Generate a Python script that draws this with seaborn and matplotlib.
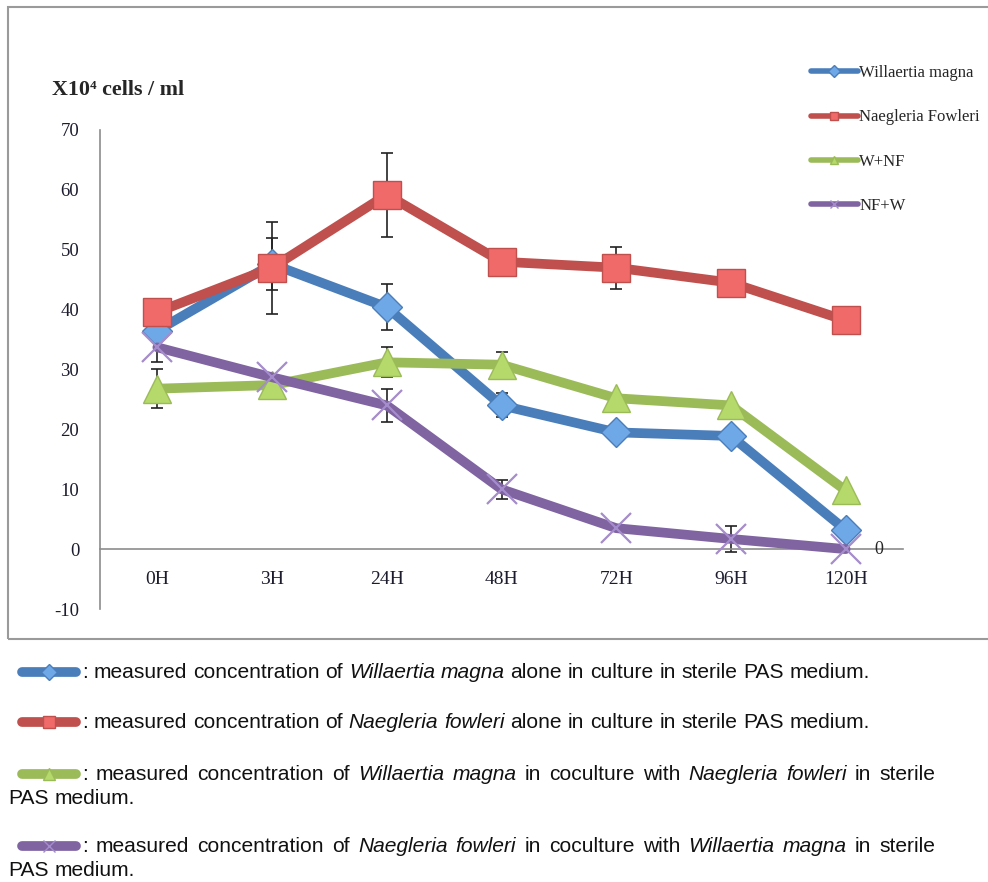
import numpy as np
import pandas as pd
import matplotlib
matplotlib.use('Agg')
import matplotlib.pyplot as plt
import seaborn as sns
from matplotlib.lines import Line2D
from matplotlib.patches import Rectangle

# data (x10^4 cells / ml)
times = ['0H', '3H', '24H', '48H', '72H', '96H', '120H']
willaertia = [36.5, 47.6, 40.4, 24.0, 19.5, 18.9, 3.2]
naegleria = [39.6, 47.0, 59.2, 48.0, 47.0, 44.5, 38.2]
w_nf = [26.8, 27.4, 31.2, 30.8, 25.2, 24.0, 9.8]
nf_w = [33.7, 28.7, 24.0, 10.0, 3.5, 1.7, 0.0]

willaertia_err = [np.nan, 4.3, 3.8, 2.0, np.nan, np.nan, np.nan]
naegleria_err = [np.nan, 7.7, 7.0, np.nan, 3.5, np.nan, np.nan]
w_nf_err = [3.3, np.nan, 2.5, 2.1, np.nan, np.nan, np.nan]
nf_w_err = [2.5, np.nan, 2.7, 1.6, np.nan, 2.2, np.nan]

series_names = ['Willaertia magna', 'Naegleria Fowleri', 'W+NF', 'NF+W']
line_colors = ['#4a7ebb', '#c0504d', '#9bbb59', '#8064a2']
face_colors = ['#6fa8e6', '#f06a6a', '#b5d96a', '#a58ccc']
markers = ['D', 's', '^', 'x']
marker_sizes = [15, 20, 20, 22]

sns.set_style('white')
plt.rcParams['axes.unicode_minus'] = False
serif = ['Liberation Serif', 'DejaVu Serif']
sans = ['Liberation Sans', 'DejaVu Sans']

fig = plt.figure(figsize=(9.88, 8.82), dpi=100)
ax = fig.add_axes([100 / 988, 1 - 609 / 882, 803 / 988, 479 / 882])

all_vals = [willaertia, naegleria, w_nf, nf_w]
all_errs = [willaertia_err, naegleria_err, w_nf_err, nf_w_err]

for name, vals, errs, lc, fc, mk, ms in zip(series_names, all_vals, all_errs,
                                           line_colors, face_colors, markers, marker_sizes):
    df = pd.DataFrame({'time': times, 'value': vals, 'err': errs})
    sns.lineplot(data=df, x='time', y='value', ax=ax, sort=False, color=lc, lw=7,
                 marker=mk, markersize=ms, markerfacecolor=fc,
                 markeredgecolor=(lc if mk != 'x' else fc),
                 markeredgewidth=(1 if mk != 'x' else 1.6), zorder=3,
                 solid_capstyle='round', label=name)
    ok = df['err'].notna()
    ax.errorbar(df['time'][ok], df['value'][ok], yerr=df['err'][ok], fmt='none',
                ecolor='#222222', elinewidth=1.2, capsize=4, capthick=1.2, zorder=2)

ax.annotate('0', xy=(times[-1], nf_w[-1]), xytext=(24, 0), textcoords='offset points',
            ha='center', va='center', fontsize=13, family=serif)

ax.set_xlim(-0.5, len(times) - 0.5)
ax.set_ylim(-10, 70)
ax.set_yticks(range(-10, 71, 10))
ax.set_xlabel('')
ax.set_ylabel('')
if ax.legend_:
    ax.legend_.remove()

for s in ['top', 'right']:
    ax.spines[s].set_visible(False)
ax.spines['bottom'].set_position(('data', 0))
for s in ['left', 'bottom']:
    ax.spines[s].set_color('#8c8c8c')
    ax.spines[s].set_linewidth(1.2)

ax.set_xticks(np.arange(-0.5, len(times)), minor=True)
ax.tick_params(axis='x', which='major', length=0, pad=16)
ax.tick_params(axis='x', which='minor', length=7, direction='out', color='#8c8c8c', width=1.2)
ax.tick_params(axis='y', length=7, direction='out', color='#8c8c8c', width=1.2, pad=8)
for lab in ax.get_yticklabels():
    lab.set_family(serif)
    lab.set_fontsize(13.5)
    lab.set_color('#1c1c2e')
for lab in ax.get_xticklabels():
    lab.set_family(serif)
    lab.set_fontsize(14)
    lab.set_color('#1c1c2e')

fig.text(52 / 988, 1 - 90 / 882, 'X10\u2074 cells / ml', family=serif, fontsize=15.8,
         fontweight='bold', va='center', ha='left')

# legend at top right
handles = [Line2D([0], [0], color=lc, lw=4, marker=mk, markersize=6,
                  markerfacecolor=fc, markeredgecolor=lc if mk != 'x' else fc,
                  solid_capstyle='round')
           for lc, fc, mk in zip(line_colors, face_colors, markers)]
fig.legend(handles, series_names, loc='upper left',
           bbox_to_anchor=(796 / 988, 1 - 50 / 882), frameon=False,
           prop={'family': serif, 'size': 12}, handlelength=2.8, handletextpad=0.1,
           labelspacing=1.7)

# chart frame
fig.add_artist(Rectangle((8 / 988, 1 - 639 / 882), 1.0, 632 / 882,
                         transform=fig.transFigure, fill=False, ec='#9a9a9a', lw=1.5))

# caption below the chart
fig.canvas.draw()
renderer = fig.canvas.get_renderer()
fs = 15.1


def word_width(word, italic):
    t = fig.text(0, 0, word, family=sans, fontsize=fs, style='italic' if italic else 'normal')
    w = t.get_window_extent(renderer).width
    t.remove()
    return w


def rich_line(x0, y, pieces, x1=None):
    words = []
    for txt, it in pieces:
        for w in txt.split():
            words.append((w, it))
    widths = [word_width(w, it) for w, it in words]
    if x1 is None:
        gap = word_width('a a', False) - 2 * word_width('a', False)
    else:
        gap = (x1 - x0 - sum(widths)) / (len(words) - 1)
    x = x0
    for (w, it), wd in zip(words, widths):
        fig.text(x / 988, 1 - y / 882, w, family=sans, fontsize=fs, va='center',
                 style='italic' if it else 'normal', color='#111111')
        x += wd + gap


def icon(y, k):
    fig.add_artist(Line2D([22 / 988, 76 / 988], [1 - y / 882] * 2, transform=fig.transFigure,
                          color=line_colors[k], lw=7, solid_capstyle='round'))
    fig.add_artist(Line2D([49 / 988], [1 - y / 882], transform=fig.transFigure,
                          color=line_colors[k], marker=markers[k], markersize=8,
                          markerfacecolor=face_colors[k],
                          markeredgecolor=line_colors[k] if markers[k] != 'x' else face_colors[k]))


icon(672, 0)
rich_line(82, 672, [(':', False), ('measured concentration of', False), ('Willaertia magna', True),
                    ('alone in culture in sterile PAS medium.', False)])
icon(722, 1)
rich_line(82, 722, [(':', False), ('measured concentration of', False), ('Naegleria fowleri', True),
                    ('alone in culture in sterile PAS medium.', False)])
icon(774, 2)
rich_line(82, 774, [(':', False), ('measured concentration of', False), ('Willaertia magna', True),
                    ('in coculture with', False), ('Naegleria fowleri', True), ('in sterile', False)],
          x1=935)
rich_line(8, 798, [('PAS medium.', False)])
icon(846, 3)
rich_line(82, 846, [(':', False), ('measured concentration of', False), ('Naegleria fowleri', True),
                    ('in coculture with', False), ('Willaertia magna', True), ('in sterile', False)],
          x1=935)
rich_line(8, 871, [('PAS medium.', False)])

fig.savefig('out.png', dpi=100)
